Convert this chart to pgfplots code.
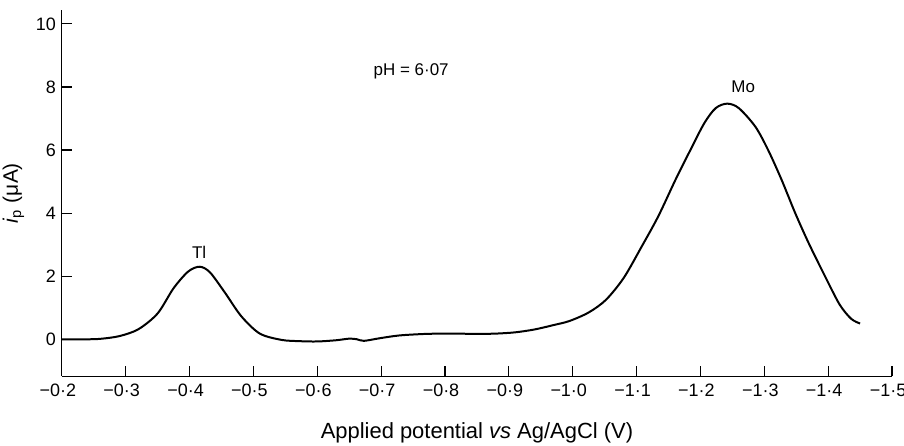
\documentclass[border=0pt]{standalone}
\usepackage{pgfplots}
\pgfplotsset{compat=1.18}
\usepackage{fontspec}
\setmainfont{Liberation Sans}
\usetikzlibrary{calc}

\begin{document}
\begin{tikzpicture}
\fontsize{8.5}{10}\selectfont
\begin{axis}[
  scale only axis,
  width=416pt, height=183.5pt,
  x dir=reverse,
  xmin=-1.5, xmax=-0.2,
  ymin=-1.17, ymax=10.44,
  axis lines=left,
  axis line style={-, line width=0.6pt},
  xtick={-0.2,-0.3,-0.4,-0.5,-0.6,-0.7,-0.8,-0.9,-1.0,-1.1,-1.2,-1.3,-1.4,-1.5},
  xticklabels={−0·2,−0·3,−0·4,−0·5,−0·6,−0·7,−0·8,−0·9,−1·0,−1·1,−1·2,−1·3,−1·4,−1·5},
  ytick={0,2,4,6,8,10},
  tick align=inside,
  major tick length=5pt,
  tick style={line width=0.6pt, black},
  /pgf/number format/assume math mode=true,
  tick label style={font=\fontsize{9}{10}\selectfont},
  xticklabel style={yshift=-1pt, xshift=-2pt},
  xlabel={Applied potential \textit{vs} Ag/AgCl (V)},
  ylabel={\textit{i}\textsubscript{p} (μA)},
  xlabel style={yshift=-7pt, font=\fontsize{11}{12}\selectfont},
  ylabel style={yshift=0pt, font=\fontsize{10.5}{12}\selectfont},
  clip=false,
]
\addplot[black, line width=1pt, smooth, tension=0.5] coordinates {
(-0.200,0.00) (-0.230,0.00) (-0.258,0.01) (-0.290,0.10) (-0.320,0.32)
(-0.350,0.82) (-0.375,1.62) (-0.398,2.15) (-0.416,2.30) (-0.432,2.12)
(-0.455,1.49) (-0.481,0.73) (-0.510,0.18) (-0.544,-0.02) (-0.572,-0.06)
(-0.600,-0.07) (-0.630,-0.03) (-0.650,0.02) (-0.662,0.00) (-0.673,-0.05)
(-0.697,0.03) (-0.728,0.12) (-0.770,0.17) (-0.811,0.18) (-0.850,0.17)
(-0.880,0.18) (-0.910,0.22) (-0.940,0.31) (-0.970,0.45) (-0.995,0.58)
(-1.025,0.85) (-1.052,1.25) (-1.080,1.95) (-1.108,2.94) (-1.134,3.90)
(-1.161,5.06) (-1.183,5.95) (-1.206,6.85) (-1.224,7.33) (-1.242,7.47)
(-1.260,7.33) (-1.286,6.74) (-1.306,6.00) (-1.327,5.06) (-1.348,4.02)
(-1.369,3.07) (-1.395,2.00) (-1.418,1.10) (-1.436,0.65) (-1.450,0.50)
};
\node at (axis cs:-0.415,2.75) {Tl};
\node at (axis cs:-1.267,8.0) {Mo};
\node at (axis cs:-0.747,8.48) {pH = 6·07};
\coordinate (bl) at (rel axis cs:0,0);
\coordinate (tr) at (rel axis cs:1,1);
\end{axis}
\pgfresetboundingbox
\path ($(bl)+(-31pt,-34.5pt)$) rectangle ($(tr)+(6pt,5pt)$);
\end{tikzpicture}
\end{document}
